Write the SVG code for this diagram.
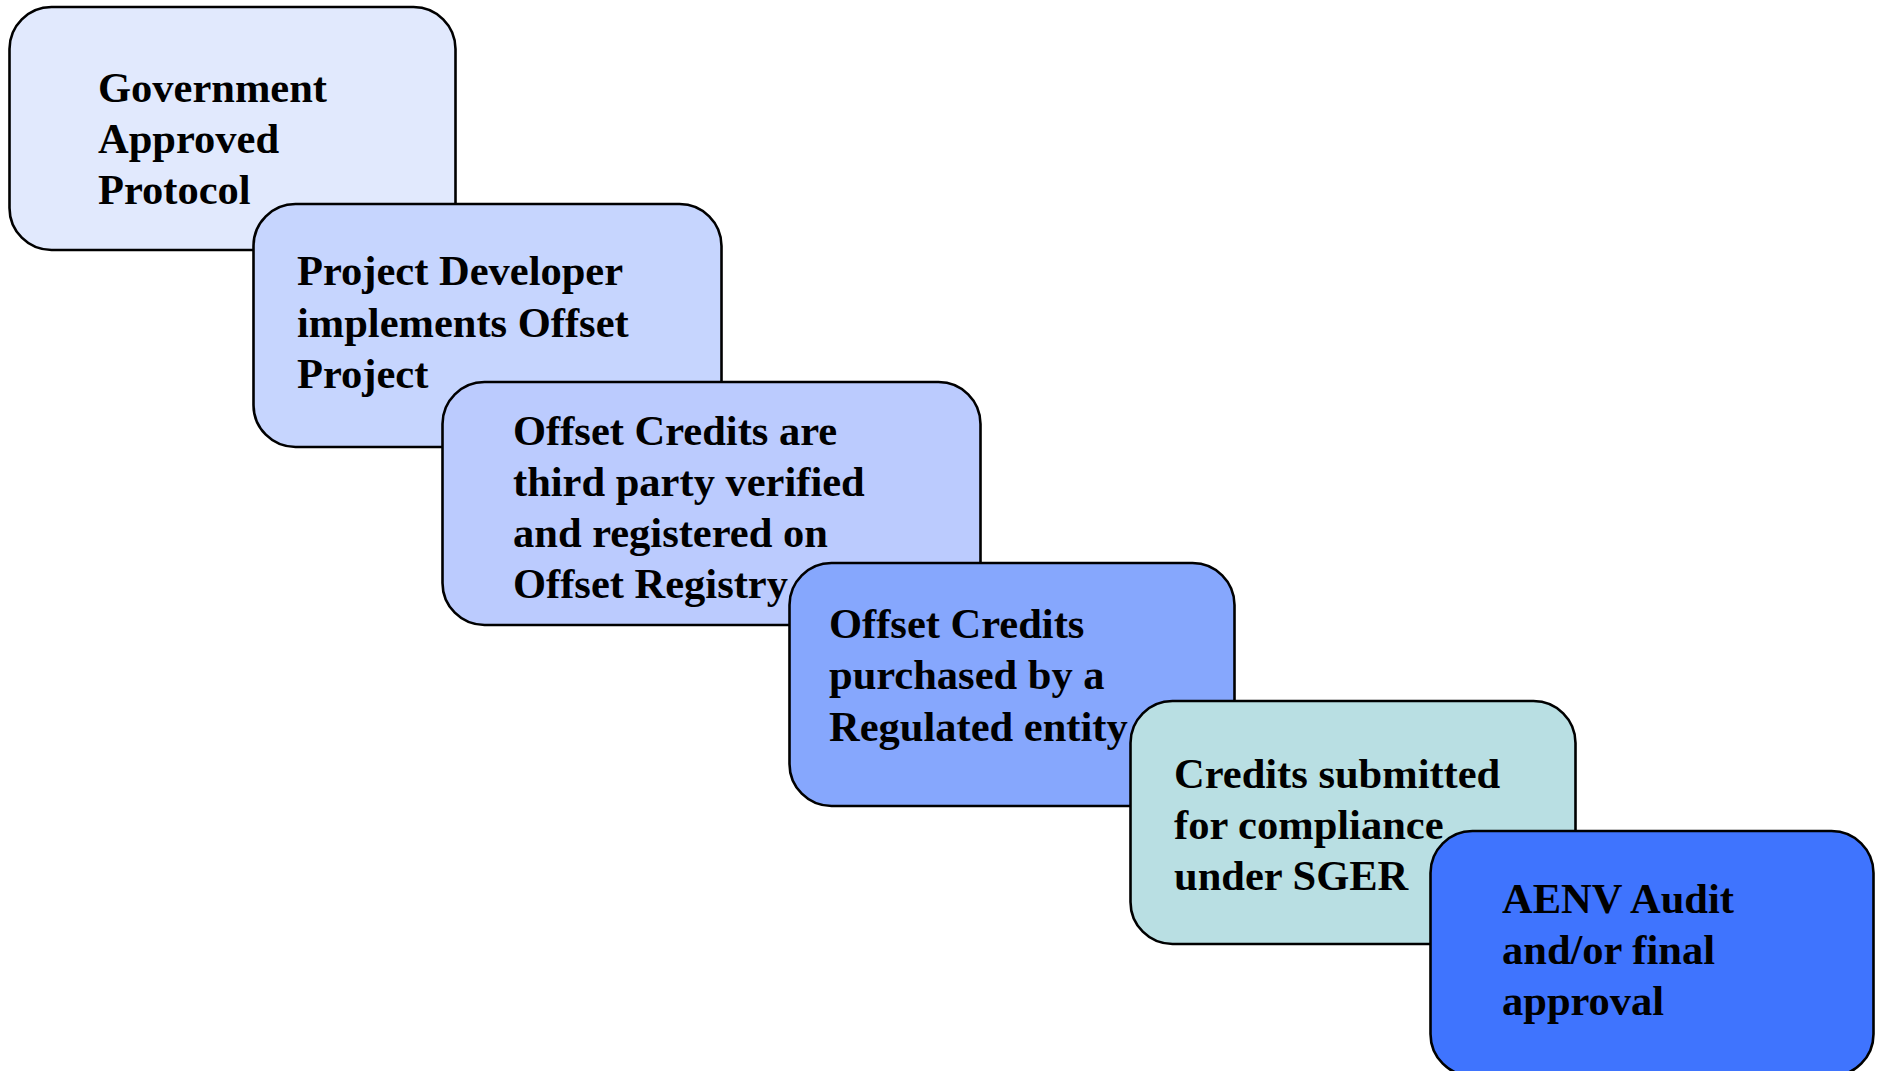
<svg xmlns="http://www.w3.org/2000/svg" width="1879" height="1071" viewBox="0 0 1879 1071">
<style>
.box{stroke:#000;stroke-width:2.6}
.t{font-family:"Liberation Serif","Times New Roman",serif;font-weight:bold;font-size:42.5px;fill:#000}
</style>
<rect width="1879" height="1071" fill="#fff"/>
<g id="connectors"></g>
<g id="n1">
<rect class="box" x="9.5" y="7" width="446" height="243" rx="42" fill="#E1E9FD"/>
<text class="t" x="98"><tspan x="98" y="102">Government</tspan><tspan x="98" y="153">Approved</tspan><tspan x="98" y="204">Protocol</tspan></text>
</g>
<g id="n2">
<rect class="box" x="253.5" y="204" width="468" height="243" rx="42" fill="#C6D5FE"/>
<text class="t"><tspan x="297" y="285">Project Developer</tspan><tspan x="297" y="337">implements Offset</tspan><tspan x="297" y="388">Project</tspan></text>
</g>
<g id="n3">
<rect class="box" x="442.5" y="382" width="538" height="243" rx="42" fill="#BBCBFE"/>
<text class="t"><tspan x="513" y="445">Offset Credits are</tspan><tspan x="513" y="496">third party verified</tspan><tspan x="513" y="547">and registered on</tspan><tspan x="513" y="598">Offset Registry</tspan></text>
</g>
<g id="n4">
<rect class="box" x="789.5" y="563" width="445" height="243" rx="42" fill="#86A7FD"/>
<text class="t"><tspan x="829" y="638">Offset Credits</tspan><tspan x="829" y="689">purchased by a</tspan><tspan x="829" y="741">Regulated entity</tspan></text>
</g>
<g id="n5">
<rect class="box" x="1130.5" y="701" width="445" height="243" rx="42" fill="#B9DFE3"/>
<text class="t"><tspan x="1174" y="788">Credits submitted</tspan><tspan x="1174" y="839">for compliance</tspan><tspan x="1174" y="890">under SGER</tspan></text>
</g>
<g id="n6">
<rect class="box" x="1430.5" y="831" width="443" height="245" rx="42" fill="#3F74FE"/>
<text class="t"><tspan x="1502" y="913">AENV Audit</tspan><tspan x="1502" y="964">and/or final</tspan><tspan x="1502" y="1015">approval</tspan></text>
</g>
</svg>
